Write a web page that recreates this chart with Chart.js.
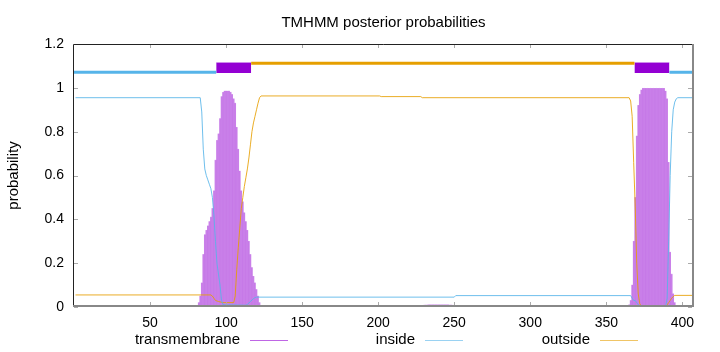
<!DOCTYPE html>
<html><head><meta charset="utf-8">
<script src="https://cdn.jsdelivr.net/npm/chart.js@4/dist/chart.umd.min.js"></script>
<style>html,body{margin:0;padding:0;background:#fff;}#wrap{width:720px;height:352px;}</style>
</head><body><div id="wrap"><canvas id="c" width="720" height="352"></canvas></div>
<script>
const chartTitle = 'TMHMM posterior probabilities';
const yTitle = 'probability';
const seriesNames = ['transmembrane', 'inside', 'outside'];
const xTicks = [50, 100, 150, 200, 250, 300, 350, 400];
const yTicks = [0, 0.2, 0.4, 0.6, 0.8, 1, 1.2];
const seqLength = 407;

// transmembrane posterior probability per residue (runs start at the given residue)
const tmStart1 = 80;
const tmProb1 = [0.003,0.006,0.02,0.05,0.11,0.24,0.33,0.35,0.37,0.39,0.41,0.45,0.53,0.67,0.76,0.79,0.86,0.96,0.98,0.985,0.985,0.985,0.985,0.98,0.97,0.95,0.93,0.82,0.72,0.62,0.53,0.48,0.43,0.39,0.35,0.3,0.24,0.18,0.14,0.11,0.08,0.05,0.02,0.005];
const tmStart2 = 365;
const tmProb2 = [0.01,0.03,0.1,0.3,0.5,0.78,0.92,0.97,0.99,0.998,0.998,0.998,0.998,0.998,0.998,0.998,0.998,0.998,0.998,0.998,0.998,0.998,0.998,0.998,0.985,0.95,0.66,0.25,0.15,0.06,0.02,0.005];
const tmStart3 = 134;
const tmProb3 = [0.002,0.003,0.004,0.004,0.005,0.005,0.005,0.005,0.005,0.004,0.004,0.004,0.003,0.003,0.003,0.003,0.003,0.002,0.002,0.002,0.002,0.002,0.002,0.002,0.002];
const tmStart4 = 228;
const tmProb4 = [0.004,0.006,0.008,0.009,0.009,0.01,0.01,0.01,0.01,0.01,0.01,0.01,0.01,0.01,0.01,0.01,0.01,0.01,0.01,0.009,0.009,0.008,0.008,0.006,0.004];

// inside / outside posterior probability (residue, value)
const insideRes  = [1, 83, 84, 85, 86, 87, 88, 89, 90, 91, 92, 93, 94, 95, 96, 97, 98, 113, 114, 115, 116, 117, 118, 119, 120, 250, 251, 366, 367, 368, 369, 370, 371, 372, 373, 389, 390, 391, 392, 393, 394, 395, 396, 397, 407];
const insideProb = [0.955, 0.955, 0.89, 0.72, 0.63, 0.6, 0.58, 0.56, 0.54, 0.5, 0.42, 0.3, 0.2, 0.15, 0.1, 0.03, 0.01, 0.008, 0.012, 0.018, 0.025, 0.032, 0.038, 0.043, 0.045, 0.045, 0.052, 0.052, 0.04, 0.03, 0.03, 0.02, 0.01, 0.005, 0.002, 0.002, 0.04, 0.3, 0.6, 0.8, 0.9, 0.935, 0.95, 0.955, 0.955];
const outsideRes  = [1, 90, 91, 92, 93, 95, 98, 105, 106, 107, 108, 109, 110, 111, 112, 113, 114, 115, 116, 117, 118, 119, 120, 121, 122, 123, 201, 202, 228, 229, 365, 366, 367, 368, 369, 370, 371, 372, 373, 389, 390, 391, 392, 393, 394, 395, 407];
const outsideProb = [0.055, 0.055, 0.05, 0.04, 0.03, 0.025, 0.02, 0.02, 0.05, 0.17, 0.27, 0.36, 0.45, 0.5, 0.55, 0.59, 0.63, 0.68, 0.74, 0.8, 0.84, 0.87, 0.9, 0.93, 0.955, 0.963, 0.963, 0.96, 0.96, 0.955, 0.955, 0.94, 0.87, 0.66, 0.46, 0.2, 0.06, 0.015, 0.004, 0.003, 0.01, 0.02, 0.03, 0.04, 0.048, 0.053, 0.053];

// predicted topology (residue ranges) and the levels they are drawn at
const insideSegments  = [[0, 93.5], [391.5, 407]];
const outsideSegments = [[116.5, 368.5]];
const tmSegments      = [[93.5, 116.5], [368.5, 391.5]];
const insideLevel = 1.071, outsideLevel = 1.112, tmBoxLow = 1.068, tmBoxHigh = 1.115;

const FONT = '"Liberation Sans", Arial, Helvetica, sans-serif';
const C_TM = '#9400d3', C_IN = '#56b4e9', C_OUT = '#e69f00';

// per-residue transmembrane table
const tmTable = [];
for (let r = 1; r <= seqLength; r++) tmTable.push({x: r, y: 0});
[[tmStart1, tmProb1], [tmStart2, tmProb2], [tmStart3, tmProb3], [tmStart4, tmProb4]].forEach(([s, arr]) => {
  arr.forEach((v, i) => { tmTable[s + i - 1].y = v; });
});
const pts = (xs, ys) => xs.map((x, i) => ({x, y: ys[i]}));

const datasets = [];
insideSegments.forEach(([a, b]) => datasets.push({type: 'line', data: [{x: a, y: insideLevel}, {x: b, y: insideLevel}], borderColor: C_IN, borderWidth: 3, pointRadius: 0, borderCapStyle: 'butt', order: 0}));
outsideSegments.forEach(([a, b]) => datasets.push({type: 'line', data: [{x: a, y: outsideLevel}, {x: b, y: outsideLevel}], borderColor: C_OUT, borderWidth: 3, pointRadius: 0, borderCapStyle: 'butt', order: 0}));
tmSegments.forEach(([a, b]) => datasets.push({type: 'line', data: [{x: a, y: tmBoxHigh}, {x: b, y: tmBoxHigh}], borderColor: 'rgba(148,0,211,0.3)', borderWidth: 1, backgroundColor: C_TM, fill: {value: tmBoxLow}, pointRadius: 0, order: 0}));
datasets.push({type: 'line', label: seriesNames[1], data: pts(insideRes, insideProb), borderColor: 'rgba(86,180,233,0.85)', borderWidth: 1, pointRadius: 0, order: 1});
datasets.push({type: 'line', label: seriesNames[2], data: pts(outsideRes, outsideProb), borderColor: 'rgba(230,159,0,0.85)', borderWidth: 1, pointRadius: 0, order: 1});
datasets.push({type: 'bar', label: seriesNames[0], data: tmTable, backgroundColor: 'rgba(148,0,211,0.38)', borderWidth: 0, barThickness: 1, order: 2});
datasets.push({type: 'line', data: tmTable, stepped: 'middle', fill: 'origin', backgroundColor: 'rgba(148,0,211,0.2)', borderColor: 'rgba(0,0,0,0)', borderWidth: 0, pointRadius: 0, order: 3});

const framePlugin = {
  id: 'frame',
  afterDatasetsDraw(chart) {
    const ctx = chart.ctx, {left, right, top, bottom} = chart.chartArea;
    const sx = chart.scales.x, sy = chart.scales.y;
    ctx.save();
    ctx.strokeStyle = '#aaa'; ctx.lineWidth = 1;
    ctx.beginPath();
    xTicks.forEach(v => { const p = Math.round(sx.getPixelForValue(v)) + 0.5; ctx.moveTo(p, bottom - 1); ctx.lineTo(p, bottom - 5); ctx.moveTo(p, top); ctx.lineTo(p, top + 4); });
    yTicks.forEach(v => { const p = Math.round(sy.getPixelForValue(v)) + 0.5; ctx.moveTo(left, p); ctx.lineTo(left + 4, p); ctx.moveTo(right - 1, p); ctx.lineTo(right - 5, p); });
    ctx.stroke();
    ctx.strokeStyle = '#222'; ctx.lineWidth = 1;
    ctx.beginPath(); ctx.moveTo(left - 0.5, bottom); ctx.lineTo(left - 0.5, top + 0.5); ctx.lineTo(right, top + 0.5); ctx.stroke();
    ctx.strokeStyle = '#888'; ctx.lineWidth = 2;
    ctx.beginPath(); ctx.moveTo(left - 1, bottom - 1); ctx.lineTo(right, bottom - 1); ctx.lineTo(right, top); ctx.stroke();
    ctx.restore();
  }
};
const legendPlugin = {
  id: 'gpLegend',
  afterDraw(chart) {
    const ctx = chart.ctx;
    const cols = [C_TM, C_IN, C_OUT];
    ctx.save();
    ctx.font = '15px ' + FONT; ctx.fillStyle = '#000'; ctx.textAlign = 'right'; ctx.textBaseline = 'middle';
    const y = 340;
    seriesNames.forEach((name, i) => {
      const sEnd = 288 + i * 175;
      ctx.fillText(name, sEnd - 48, y);
      ctx.strokeStyle = cols[i]; ctx.globalAlpha = 0.6; ctx.lineWidth = 1;
      ctx.beginPath(); ctx.moveTo(sEnd - 38, y + 0.5); ctx.lineTo(sEnd, y + 0.5); ctx.stroke();
      ctx.globalAlpha = 1;
    });
    ctx.restore();
  }
};

new Chart(document.getElementById('c'), {
  type: 'line',
  data: {datasets},
  options: {
    animation: false, responsive: false, events: [],
    layout: {padding: {left: 0, right: 27, top: 0, bottom: 0}},
    plugins: {
      legend: {display: false}, tooltip: {enabled: false},
      title: {display: true, text: chartTitle, fullSize: false, color: '#000', font: {family: FONT, size: 15, weight: 'normal'}, padding: {top: 14, bottom: 12}}
    },
    scales: {
      x: {type: 'linear', min: 0, max: seqLength, offset: false,
        grid: {display: false, drawTicks: false}, border: {display: false},
        ticks: {color: '#000', font: {family: FONT, size: 14}, padding: 8, autoSkip: false, maxRotation: 0},
        afterBuildTicks: s => { s.ticks = xTicks.map(v => ({value: v})); },
        afterFit: s => { s.height = 45; }},
      y: {type: 'linear', min: 0, max: 1.2,
        grid: {display: false, drawTicks: false}, border: {display: false},
        ticks: {color: '#000', font: {family: FONT, size: 14}, padding: 10, callback: v => String(Number(v.toFixed(2)))},
        title: {display: true, text: yTitle, color: '#000', font: {family: FONT, size: 15}, padding: {top: 5, bottom: 0}},
        afterBuildTicks: s => { s.ticks = yTicks.map(v => ({value: v})); },
        afterFit: s => { s.width = 74; }}
    }
  },
  plugins: [framePlugin, legendPlugin]
});
</script></body></html>
